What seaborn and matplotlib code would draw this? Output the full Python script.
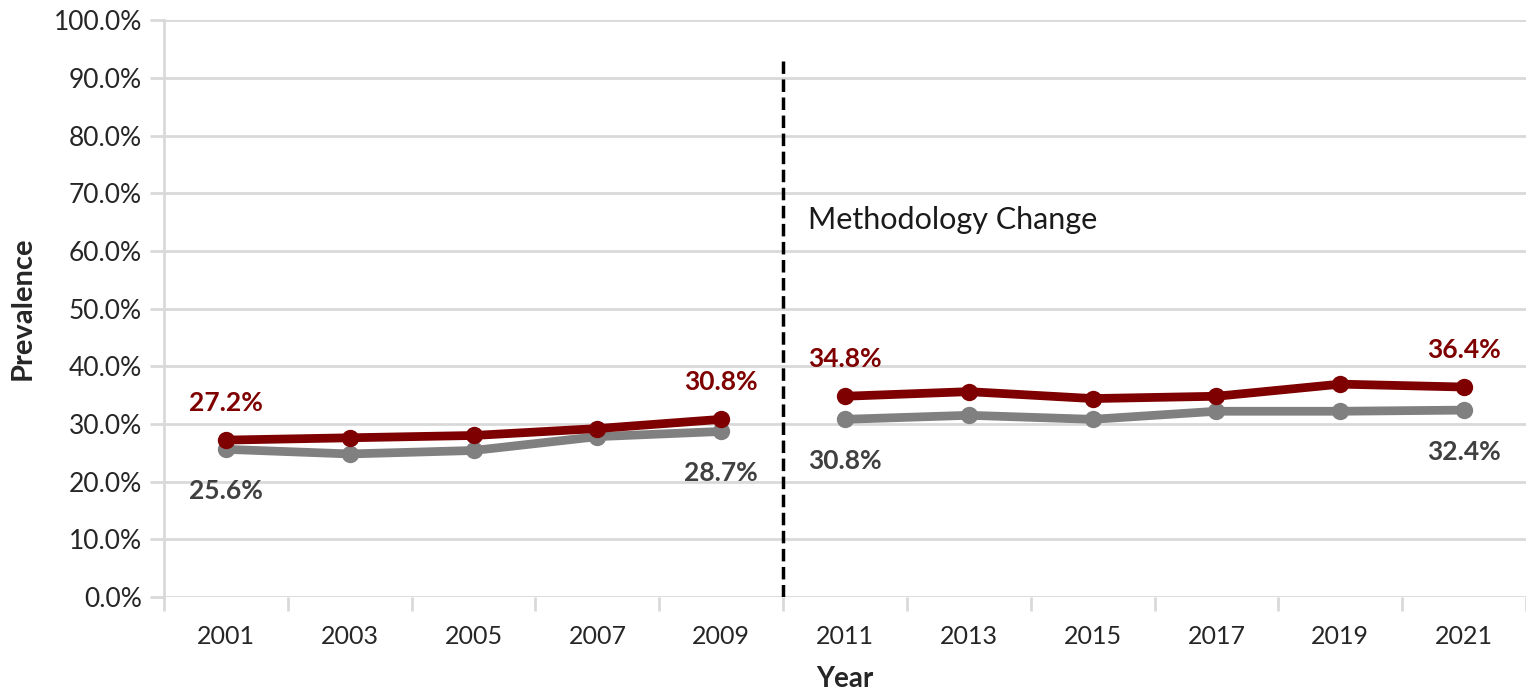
import pandas as pd
import seaborn as sns
import matplotlib.pyplot as plt
from matplotlib.ticker import PercentFormatter

# Data
years = [2001, 2003, 2005, 2007, 2009, 2011, 2013, 2015, 2017, 2019, 2021]
red_values = [27.2, 27.6, 28.0, 29.2, 30.8, 34.8, 35.6, 34.4, 34.8, 36.9, 36.4]
gray_values = [25.6, 24.8, 25.4, 27.8, 28.7, 30.8, 31.5, 30.8, 32.2, 32.2, 32.4]
series_names = ["Series A", "Series B"]

red = "#7F0000"
gray = "#808080"

df = pd.DataFrame({
    "Year": years * 2,
    "Prevalence": red_values + gray_values,
    "Series": [series_names[0]] * len(years) + [series_names[1]] * len(years),
})

sns.set_style("white")
plt.rcParams["font.family"] = ["Lato", "DejaVu Sans"]

fig = plt.figure(figsize=(15.26, 6.95), dpi=100)
ax = fig.add_axes([0.1075, 0.141, 0.8925, 0.830])

# grid lines
for v in range(0, 101, 10):
    ax.axhline(v, color="#D9D9D9", lw=2, zorder=0)

# lines are broken at the methodology change
for (lo, hi) in [(2000, 2010), (2010, 2022)]:
    part = df[(df["Year"] > lo) & (df["Year"] < hi)]
    sns.lineplot(data=part, x="Year", y="Prevalence", hue="Series",
                 palette=[red, gray], hue_order=series_names,
                 marker="o", markersize=12.5, markeredgewidth=0,
                 linewidth=6.3, legend=False, ax=ax, zorder=3)
# gray under red
for line in ax.get_lines():
    if line.get_color() == gray:
        line.set_zorder(2)

ax.axvline(2010, ymin=0, ymax=0.93, color="black", lw=2.5,
           linestyle=(0, (3.6, 1.6)), zorder=4)
ax.text(2010.4, 65.4, "Methodology Change", fontsize=22, color="#1a1a1a",
        va="center", ha="left")

# value labels
labels = [
    (2001, 27.2, 9, red), (2009, 30.8, 9, red),
    (2011, 34.8, 9, red), (2021, 36.4, 9, red),
    (2001, 25.6, -10, "#404040"), (2009, 28.7, -10, "#404040"),
    (2011, 30.8, -10, "#404040"), (2021, 32.4, -10, "#404040"),
]
for x, v, dy, c in labels:
    ax.text(x, v + dy * 0.72, f"{v:.1f}%", color=c, fontsize=19,
            fontweight="bold", ha="center", va="center")

ax.set_xlim(2000, 2022)
ax.set_ylim(0, 100)
ax.set_xticks(years)
ax.set_xticks(range(2000, 2023, 2), minor=True)
ax.set_yticks(range(0, 101, 10))
ax.yaxis.set_major_formatter(PercentFormatter(decimals=1))
ax.tick_params(axis="x", which="major", length=0, labelsize=18, pad=20,
               labelcolor="#262626")
ax.tick_params(axis="x", which="minor", length=10, width=2, color="#D9D9D9",
               direction="out", bottom=True)
ax.tick_params(axis="y", length=10, width=2, color="#D9D9D9", direction="out",
               left=True, labelsize=19, labelcolor="#262626", pad=6)

for s in ["top", "right", "bottom"]:
    ax.spines[s].set_visible(False)
ax.spines["left"].set_color("#D9D9D9")
ax.spines["left"].set_linewidth(2)

ax.set_xlabel("Year", fontsize=20, fontweight="bold", labelpad=13)
ax.set_ylabel("Prevalence", fontsize=21, fontweight="bold", labelpad=13)

fig.savefig("out.png", dpi=100)
